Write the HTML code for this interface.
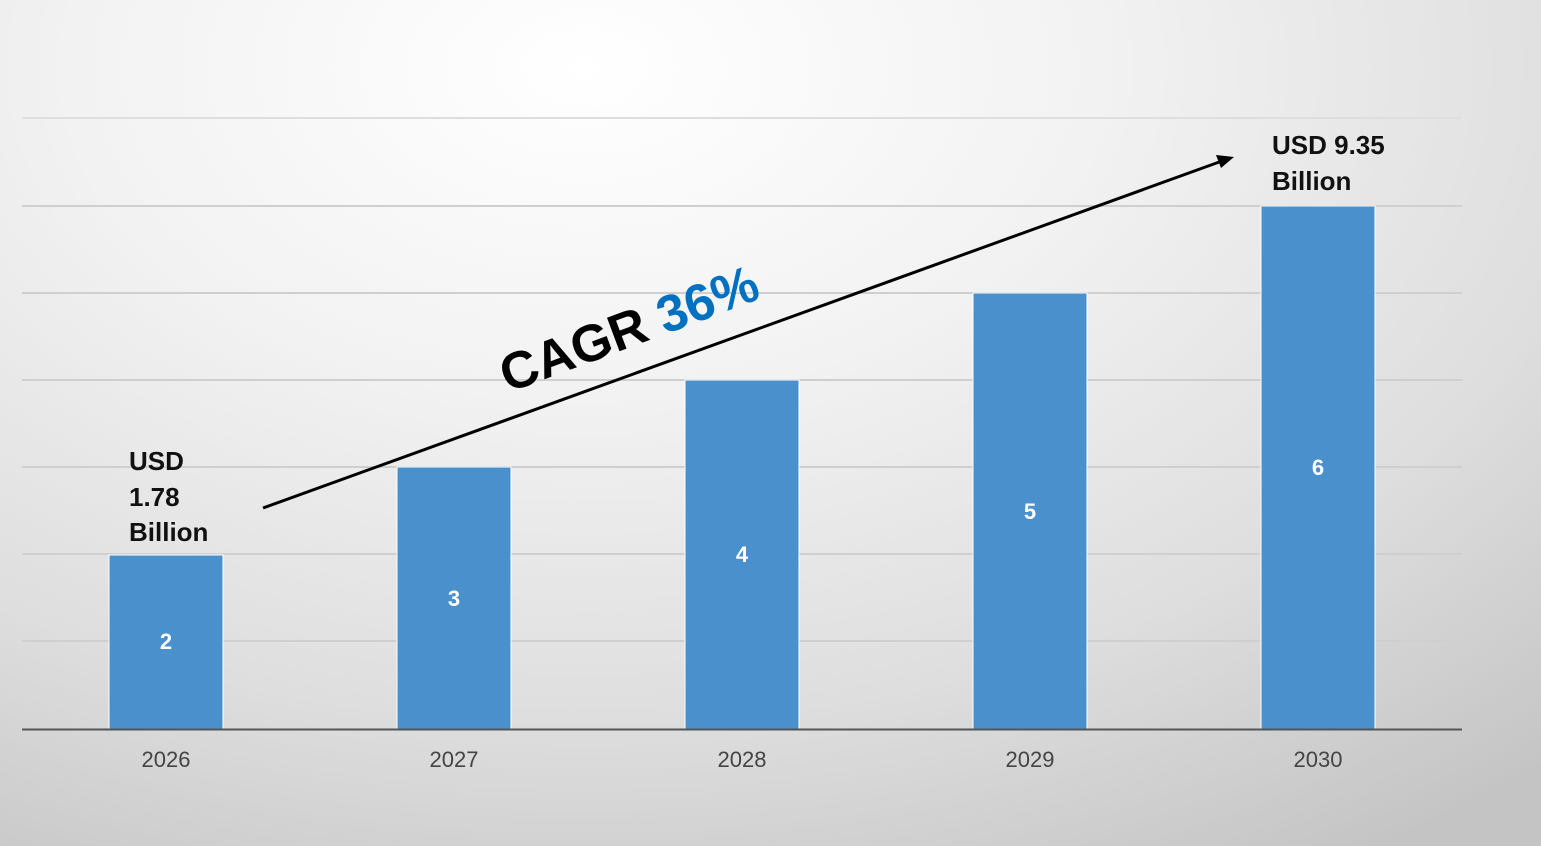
<!DOCTYPE html>
<html><head><meta charset="utf-8"><style>
html,body{margin:0;padding:0;width:1541px;height:846px;overflow:hidden}
body{background:radial-gradient(ellipse 95% 110% at 38% 8%,#ffffff 0%,#f2f2f2 35%,#dedede 70%,#c4c4c4 100%)}
svg{position:absolute;left:0;top:0}
text{font-family:"Liberation Sans",sans-serif}
</style></head><body>
<svg width="1541" height="846">
<g stroke="#cfcfcf" stroke-width="2">
<line x1="22" y1="118" x2="1462" y2="118" stroke="#dedede"/>
<line x1="22" y1="206" x2="1462" y2="206"/>
<line x1="22" y1="293" x2="1462" y2="293"/>
<line x1="22" y1="380" x2="1462" y2="380"/>
<line x1="22" y1="467" x2="1462" y2="467"/>
<line x1="22" y1="554" x2="1462" y2="554"/>
<line x1="22" y1="641" x2="1462" y2="641"/>
</g>
<g fill="#4a90cd" stroke="#ffffff" stroke-width="1">
<rect x="109" y="555" width="114" height="174"/>
<rect x="397" y="467" width="114" height="262"/>
<rect x="685" y="380" width="114" height="349"/>
<rect x="973" y="293" width="114" height="436"/>
<rect x="1261" y="206" width="114" height="523"/>
</g>
<line x1="22" y1="729.5" x2="1462" y2="729.5" stroke="#555" stroke-width="2"/>
<g fill="#fff" font-size="22" font-weight="bold" text-anchor="middle">
<text x="166" y="649">2</text><text x="454" y="606">3</text><text x="742" y="562">4</text><text x="1030" y="519">5</text><text x="1318" y="475">6</text>
</g>
<g fill="#444" font-size="22" text-anchor="middle">
<text x="166" y="767">2026</text><text x="454" y="767">2027</text><text x="742" y="767">2028</text><text x="1030" y="767">2029</text><text x="1318" y="767">2030</text>
</g>
<g fill="#111" font-size="26" font-weight="bold">
<text x="129" y="470">USD</text><text x="129" y="506">1.78</text><text x="129" y="541">Billion</text>
<text x="1272" y="154">USD 9.35</text><text x="1272" y="190">Billion</text>
</g>
<line x1="263" y1="508" x2="1222" y2="161" stroke="#000" stroke-width="3"/>
<polygon points="1234,157 1216,155 1221,168" fill="#000"/>
<text transform="translate(508,393) rotate(-20.5)" font-size="52" font-weight="bold" fill="#000">CAGR <tspan fill="#0070c0">36%</tspan></text>
</svg>
</body></html>
